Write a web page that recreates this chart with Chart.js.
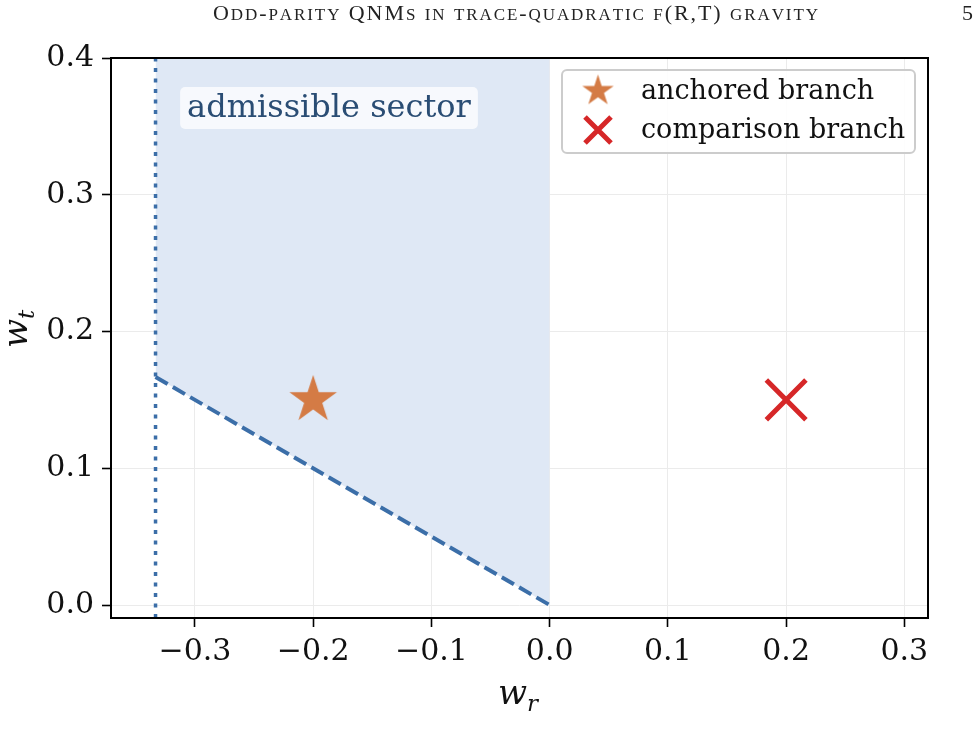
<!DOCTYPE html>
<html>
<head>
<meta charset="utf-8">
<script src="https://cdn.jsdelivr.net/npm/chart.js@4.4.0/dist/chart.umd.min.js"></script>
<style>
  html, body { margin: 0; padding: 0; background: #fff; }
  canvas { display: block; }
</style>
</head>
<body>
<canvas id="myChart" width="979" height="738"></canvas>
<script>
// values
const xTicks = [-0.3, -0.2, -0.1, 0.0, 0.1, 0.2, 0.3];
const yTicks = [0.0, 0.1, 0.2, 0.3, 0.4];
const xRange = [-0.371, 0.32];
const yRange = [-0.0095, 0.4];

// w_t >= -w_r / 2 on -1/3 <= w_r <= 0
const boundaryX = [-1 / 3, 0];
const boundaryY = [1 / 6, 0];
const wallX = -1 / 3;

const anchoredPoint = { x: -0.2, y: 0.15 };
const comparisonPoint = { x: 0.2, y: 0.15 };
const seriesLabels = ["anchored branch", "comparison branch"];
const sectorLabel = "admissible sector";
const sectorLabelAt = { x: -0.31, y: 0.3635 };
const headerText = "Odd-parity QNMs in trace-quadratic f(R,T) gravity";
const pageNumber = "5";

const SERIF = "'DejaVu Serif', serif";
const blue = "#3b6ea8";
const orange = "#d47b45";
const red = "#d62728";

function starImage(r, color) {
  const c = document.createElement("canvas");
  c.width = c.height = Math.ceil(2 * r + 2);
  const g = c.getContext("2d");
  const cx = c.width / 2, cy = c.height / 2;
  g.beginPath();
  for (let i = 0; i < 10; i++) {
    const rad = i % 2 === 0 ? r : r * 0.382;
    const a = -Math.PI / 2 + i * Math.PI / 5;
    const px = cx + rad * Math.cos(a), py = cy + rad * Math.sin(a);
    if (i === 0) g.moveTo(px, py); else g.lineTo(px, py);
  }
  g.closePath();
  g.fillStyle = color;
  g.fill();
  return c;
}

const bigStar = starImage(25, orange);
const smallStar = starImage(16.5, orange);

function fmt(v) {
  return v.toFixed(1).replace("-", "\u2212");
}

function drawCross(g, x, y, h, w, color) {
  g.save();
  g.strokeStyle = color;
  g.lineWidth = w;
  g.beginPath();
  g.moveTo(x - h, y - h); g.lineTo(x + h, y + h);
  g.moveTo(x - h, y + h); g.lineTo(x + h, y - h);
  g.stroke();
  g.restore();
}

function roundRect(g, x, y, w, h, r) {
  g.beginPath();
  g.moveTo(x + r, y);
  g.arcTo(x + w, y, x + w, y + h, r);
  g.arcTo(x + w, y + h, x, y + h, r);
  g.arcTo(x, y + h, x, y, r);
  g.arcTo(x, y, x + w, y, r);
  g.closePath();
}

// fake small caps: capitals at full size, lower case as smaller capitals,
// spread out to the given width
function smallCaps(g, text, left, y, big, small, width) {
  const parts = [];
  let total = 0;
  for (const ch of text) {
    const lower = ch !== ch.toUpperCase();
    const font = (lower ? small : big) + "px 'Liberation Serif', serif";
    g.font = font;
    const s = ch.toUpperCase();
    const w = g.measureText(s).width;
    parts.push({ s, font, w });
    total += w;
  }
  const gap = (width - total) / (parts.length - 1);
  let x = left;
  for (const p of parts) {
    g.font = p.font;
    g.fillText(p.s, x, y);
    x += p.w + gap;
  }
}

const decorations = {
  id: "decorations",
  afterDraw(chart) {
    const g = chart.ctx;
    const a = chart.chartArea;
    const xs = chart.scales.x, ys = chart.scales.y;

    // sector label
    g.save();
    g.font = "32px " + SERIF;
    g.textBaseline = "middle";
    const lx = xs.getPixelForValue(sectorLabelAt.x);
    const ly = ys.getPixelForValue(sectorLabelAt.y);
    const tw = g.measureText(sectorLabel).width;
    g.fillStyle = "rgba(255,255,255,0.75)";
    roundRect(g, lx - 3, ly - 21, tw + 14, 42, 5);
    g.fill();
    g.fillStyle = "#2a4d74";
    g.fillText(sectorLabel, lx + 4, ly + 1);
    g.restore();

    // legend
    g.save();
    const bx = a.right - 366, by = a.top + 12, bw = 353, bh = 83;
    g.fillStyle = "rgba(255,255,255,0.9)";
    roundRect(g, bx, by, bw, bh, 5);
    g.fill();
    g.strokeStyle = "#cccccc";
    g.lineWidth = 2;
    g.stroke();
    g.drawImage(smallStar, bx + 36 - smallStar.width / 2, by + 21 - smallStar.height / 2);
    drawCross(g, bx + 36, by + 60, 13, 5, red);
    g.font = "27px " + SERIF;
    g.fillStyle = "#111";
    g.textBaseline = "middle";
    g.fillText(seriesLabels[0], bx + 79, by + 22);
    g.fillText(seriesLabels[1], bx + 79, by + 61);
    g.restore();

    // frame
    g.save();
    g.strokeStyle = "#000";
    g.lineWidth = 2;
    g.strokeRect(a.left, a.top, a.right - a.left, a.bottom - a.top);
    g.restore();

    // axis titles
    g.save();
    g.fillStyle = "#111";
    g.textBaseline = "alphabetic";
    g.font = "italic 34px " + SERIF;
    const wx = 498, wy = 704;
    g.fillText("w", wx, wy);
    const ww = g.measureText("w").width;
    g.font = "italic 23px " + SERIF;
    g.fillText("r", wx + ww, wy + 7);
    g.translate(27, 332);
    g.rotate(-Math.PI / 2);
    g.font = "italic 34px " + SERIF;
    g.fillText("w", -16, 0);
    g.font = "italic 23px " + SERIF;
    g.fillText("t", -16 + ww, 7);
    g.restore();

    // page header
    g.save();
    g.fillStyle = "#222";
    g.textBaseline = "alphabetic";
    smallCaps(g, headerText, 213, 20, 22, 17, 605);
    g.font = "22px 'Liberation Serif', serif";
    g.textAlign = "right";
    g.fillText(pageNumber, 973, 20);
    g.restore();
  }
};

const ctx = document.getElementById("myChart");

new Chart(ctx, {
  type: "scatter",
  data: {
    datasets: [
      {
        label: seriesLabels[0],
        data: [anchoredPoint],
        pointStyle: bigStar,
        order: 0,
      },
      {
        label: seriesLabels[1],
        data: [comparisonPoint],
        pointStyle: "crossRot",
        pointRadius: 28,
        borderColor: red,
        borderWidth: 5,
        order: 0,
      },
      {
        label: "wall",
        data: [{ x: wallX, y: yRange[0] }, { x: wallX, y: yRange[1] }],
        showLine: true,
        borderColor: blue,
        borderWidth: 3.5,
        borderDash: [4, 6.5],
        pointRadius: 0,
        order: 1,
      },
      {
        label: "sector",
        data: boundaryX.map((x, i) => ({ x: x, y: boundaryY[i] })),
        showLine: true,
        fill: "end",
        backgroundColor: "rgba(223,232,245,1)",
        borderColor: blue,
        borderWidth: 4,
        borderDash: [14, 6],
        pointRadius: 0,
        order: 2,
      },
    ],
  },
  options: {
    responsive: false,
    animation: false,
    devicePixelRatio: 1,
    layout: { padding: { top: 58, right: 51, left: 0, bottom: 0 } },
    plugins: { legend: { display: false }, tooltip: { enabled: false } },
    scales: {
      x: {
        type: "linear",
        min: xRange[0],
        max: xRange[1],
        afterFit: (s) => { s.height = 120; },
        afterBuildTicks: (s) => { s.ticks = xTicks.map((v) => ({ value: v })); },
        ticks: {
          callback: (v) => fmt(v),
          font: { family: SERIF, size: 30 },
          color: "#111",
          padding: 7,
          maxRotation: 0,
        },
        grid: { color: "#ebebeb", lineWidth: 1, tickColor: "#000", tickLength: 9, tickWidth: 1.6 },
        border: { display: false },
      },
      y: {
        type: "linear",
        min: yRange[0],
        max: yRange[1],
        afterFit: (s) => { s.width = 111; },
        afterBuildTicks: (s) => { s.ticks = yTicks.map((v) => ({ value: v })); },
        ticks: {
          callback: (v) => fmt(v),
          font: { family: SERIF, size: 30 },
          color: "#111",
          padding: 8,
        },
        grid: { color: "#ebebeb", lineWidth: 1, tickColor: "#000", tickLength: 9, tickWidth: 1.6 },
        border: { display: false },
      },
    },
  },
  plugins: [decorations],
});
</script>
</body>
</html>
